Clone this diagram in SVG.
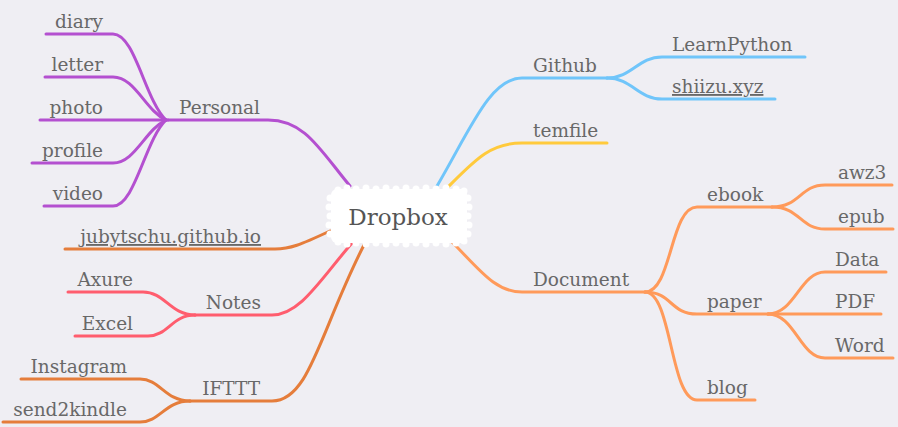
<svg xmlns="http://www.w3.org/2000/svg" width="898" height="427" viewBox="0 0 898 427">
<style>
.c{fill:none;stroke-width:3;stroke-linecap:round}
.t{font-family:"DejaVu Serif",serif;font-size:18.5px;fill:#686868}
.l{text-anchor:end}
.u{text-decoration:underline}
.pu{stroke:#b450d0}.bl{stroke:#70c5fa}.ye{stroke:#ffca3c}.or{stroke:#ff9a5a}.dk{stroke:#e57d3b}.rd{stroke:#ff5d6e}
</style>
<rect width="898" height="427" fill="#efeef3"/>
<g id="connectors">
<path class="c pu" d="M350,186 C320,150 305,120 268,120 L168,120"/>
<path class="c pu" d="M166,120 C145,100 135,34 113,34 L46,34"/>
<path class="c pu" d="M166,120 C145,110 135,77 113,77 L45,77"/>
<path class="c pu" d="M168,120 L40,120"/>
<path class="c pu" d="M166,120 C145,130 135,163 113,163 L32,163"/>
<path class="c pu" d="M166,120 C145,140 135,206 113,206 L44,206"/>
<path class="c dk" d="M330,231 C300,245 290,249 275,249 L65,249"/>
<path class="c rd" d="M352,243 C320,280 300,315 272,315 L195,315"/>
<path class="c rd" d="M195,315 C170,315 165,292 143,292 L68,292"/>
<path class="c rd" d="M195,315 C172,315 168,336 148,336 L75,336"/>
<path class="c dk" d="M365,243 C320,330 310,401 272,401 L190,401"/>
<path class="c dk" d="M190,401 C165,401 160,379 140,379 L21,379"/>
<path class="c dk" d="M190,401 C165,401 160,422 140,422 L3,422"/>
<path class="c bl" d="M437,186 C470,130 490,78 522,78 L607,78"/>
<path class="c bl" d="M607,78 C632,78 638,57 662,57 L805,57"/>
<path class="c bl" d="M607,78 C632,78 638,99 662,99 L775,99"/>
<path class="c ye" d="M447,188 C475,160 490,143 522,143 L607,143"/>
<path class="c or" d="M452,242 C480,270 495,292 522,292 L645,292"/>
<path class="c or" d="M645,292 C672,292 670,207 697,207 L772,207"/>
<path class="c or" d="M645,292 C672,292 670,314 697,314 L768,314"/>
<path class="c or" d="M645,292 C672,292 670,400 697,400 L755,400"/>
<path class="c or" d="M772,207 C800,207 800,185 825,185 L892,185"/>
<path class="c or" d="M772,207 C800,207 800,229 825,229 L893,229"/>
<path class="c or" d="M768,314 C795,314 800,272 825,272 L886,272"/>
<path class="c or" d="M768,314 L881,314"/>
<path class="c or" d="M768,314 C795,314 800,358 825,358 L893,358"/>
</g>
<g id="dropbox">
<g fill="#fff">
<rect x="331" y="189" width="136" height="54" rx="6"/>
<circle cx="338" cy="190" r="3.5"/><circle cx="347" cy="188" r="3.5"/><circle cx="356" cy="189" r="3.5"/><circle cx="366" cy="188" r="3.5"/><circle cx="376" cy="189" r="3.5"/><circle cx="386" cy="188" r="3.5"/><circle cx="396" cy="189" r="3.5"/><circle cx="406" cy="188" r="3.5"/><circle cx="416" cy="189" r="3.5"/><circle cx="426" cy="188" r="3.5"/><circle cx="436" cy="189" r="3.5"/><circle cx="446" cy="188" r="3.5"/><circle cx="456" cy="189" r="3.5"/><circle cx="464" cy="191" r="3.5"/>
<circle cx="338" cy="242" r="3.5"/><circle cx="347" cy="244" r="3.5"/><circle cx="356" cy="243" r="3.5"/><circle cx="366" cy="244" r="3.5"/><circle cx="376" cy="243" r="3.5"/><circle cx="386" cy="244" r="3.5"/><circle cx="396" cy="243" r="3.5"/><circle cx="406" cy="244" r="3.5"/><circle cx="416" cy="243" r="3.5"/><circle cx="426" cy="244" r="3.5"/><circle cx="436" cy="243" r="3.5"/><circle cx="446" cy="244" r="3.5"/><circle cx="456" cy="243" r="3.5"/><circle cx="464" cy="241" r="3.5"/>
<circle cx="330" cy="198" r="3.5"/><circle cx="329" cy="207" r="3.5"/><circle cx="330" cy="216" r="3.5"/><circle cx="329" cy="225" r="3.5"/><circle cx="330" cy="234" r="3.5"/>
<circle cx="468" cy="198" r="3.5"/><circle cx="469" cy="207" r="3.5"/><circle cx="468" cy="216" r="3.5"/><circle cx="469" cy="225" r="3.5"/><circle cx="468" cy="234" r="3.5"/>
</g>
<text x="398" y="225" text-anchor="middle" style="font-family:'DejaVu Serif',serif;font-size:23px;fill:#555">Dropbox</text>
</g>
<g id="personal"><text class="t l" x="260" y="114">Personal</text></g>
<g id="diary"><text class="t l" x="103" y="28">diary</text></g>
<g id="letter"><text class="t l" x="103" y="71">letter</text></g>
<g id="photo"><text class="t l" x="103" y="114">photo</text></g>
<g id="profile"><text class="t l" x="103" y="157">profile</text></g>
<g id="video"><text class="t l" x="103" y="200">video</text></g>
<g id="jubytschu"><text class="t l u" x="261" y="243">jubytschu.github.io</text></g>
<g id="notes"><text class="t l" x="261" y="309">Notes</text></g>
<g id="axure"><text class="t l" x="133" y="286">Axure</text></g>
<g id="excel"><text class="t l" x="133" y="330">Excel</text></g>
<g id="ifttt"><text class="t l" x="260" y="395">IFTTT</text></g>
<g id="instagram"><text class="t l" x="127" y="373">Instagram</text></g>
<g id="send2kindle"><text class="t l" x="127" y="416">send2kindle</text></g>
<g id="github"><text class="t" x="533" y="72">Github</text></g>
<g id="learnpython"><text class="t" x="672" y="51">LearnPython</text></g>
<g id="shiizu"><text class="t u" x="672" y="93">shiizu.xyz</text></g>
<g id="temfile"><text class="t" x="533" y="137">temfile</text></g>
<g id="document"><text class="t" x="533" y="286">Document</text></g>
<g id="ebook"><text class="t" x="707" y="201">ebook</text></g>
<g id="paper"><text class="t" x="707" y="308">paper</text></g>
<g id="blog"><text class="t" x="707" y="394">blog</text></g>
<g id="awz3"><text class="t" x="838" y="179">awz3</text></g>
<g id="epub"><text class="t" x="838" y="223">epub</text></g>
<g id="data"><text class="t" x="835" y="266">Data</text></g>
<g id="pdf"><text class="t" x="835" y="308">PDF</text></g>
<g id="word"><text class="t" x="835" y="352">Word</text></g>
</svg>
